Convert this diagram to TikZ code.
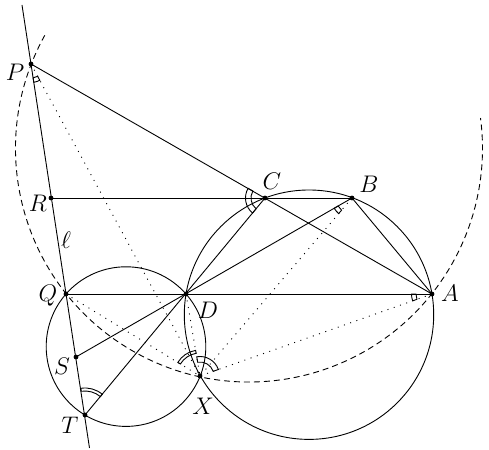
\documentclass[tikz,border=0pt]{standalone}
\usetikzlibrary{calc}
\newcommand\angmark[5]{\draw[marksty] ($(#1)+(#2:#4)$) arc[start angle=#2,end angle=#3,radius=#4] -- ($(#1)+(#3:#5)$) arc[start angle=#3,end angle=#2,radius=#5] -- cycle;}
\begin{document}
\begin{tikzpicture}[x=0.5pt,y=0.5pt,
  every path/.style={line width=0.45pt},
  lbl/.style={inner sep=0pt,font=\fontsize{12}{14}\selectfont},
  dotline/.style={dash pattern=on 0.5pt off 2.8pt},
  dashline/.style={dash pattern=on 3pt off 2pt},
  marksty/.style={line width=0.45pt},
  pt/.style={circle,fill,inner sep=0pt,minimum size=2.4pt}]
\useasboundingbox (0,0) rectangle (489,450);
% points
\coordinate (P) at (31,386);
\coordinate (C) at (265,252);
\coordinate (B) at (352,252);
\coordinate (A) at (432,156);
\coordinate (D) at (186,156);
\coordinate (Q) at (66,156);
\coordinate (R) at (51,252);
\coordinate (S) at (76,93);
\coordinate (T) at (85,35);
\coordinate (X) at (200,74);
\coordinate (ltop) at (22,445);
\coordinate (lbot) at (89.5,2);
\coordinate (O1) at (309,135.3);
\coordinate (O2) at (126,103.4);
\coordinate (O3) at (249,301.5);
% circles
\draw (O1) circle[radius=124.7];
\draw (O2) circle[radius=79.8];
\draw[dashline] (O3) ++(151:233.5) arc[start angle=151,end angle=367.5,radius=233.5];
% lines
\draw (ltop) -- (lbot);
\draw (P) -- (A);
\draw (R) -- (B);
\draw (Q) -- (A);
\draw (B) -- (A);
\draw (T) -- (C);
\draw (S) -- (B);
% dotted
\draw[dotline] (P) -- (X);
\draw[dotline] (Q) -- (X);
\draw[dotline] (D) -- (X);
\draw[dotline] (B) -- (X);
\draw[dotline] (A) -- (X);
% angle marks
\angmark{P}{-81.3}{-61.6}{14}{18.5}
\angmark{A}{180}{199.5}{16}{20.5}
\angmark{B}{210}{229.5}{16}{20.5}
\angmark{C}{150.2}{230.5}{14}{19.5}
\angmark{X}{19.5}{99.7}{14}{19.5}
\angmark{T}{50.1}{98.9}{24}{27}
\angmark{X}{99.7}{148.5}{23}{26}
% dots
\foreach \p in {P,C,B,A,D,Q,R,S,T,X} \node[pt] (n\p) at (\p) {};
% labels
\node[lbl] (lP) at (15,378) {$P$};
\node[lbl] (lC) at (272,269) {$C$};
\node[lbl] (lB) at (369,266) {$B$};
\node[lbl] (lA) at (450,157) {$A$};
\node[lbl] (lD) at (208,140) {$D$};
\node[lbl] (lQ) at (48,154) {$Q$};
\node[lbl] (lR) at (38,247) {$R$};
\node[lbl] (ll) at (66,210) {$\ell$};
\node[lbl] (lS) at (62,84) {$S$};
\node[lbl] (lT) at (70,25) {$T$};
\node[lbl] (lX) at (203,44) {$X$};
\end{tikzpicture}
\end{document}
